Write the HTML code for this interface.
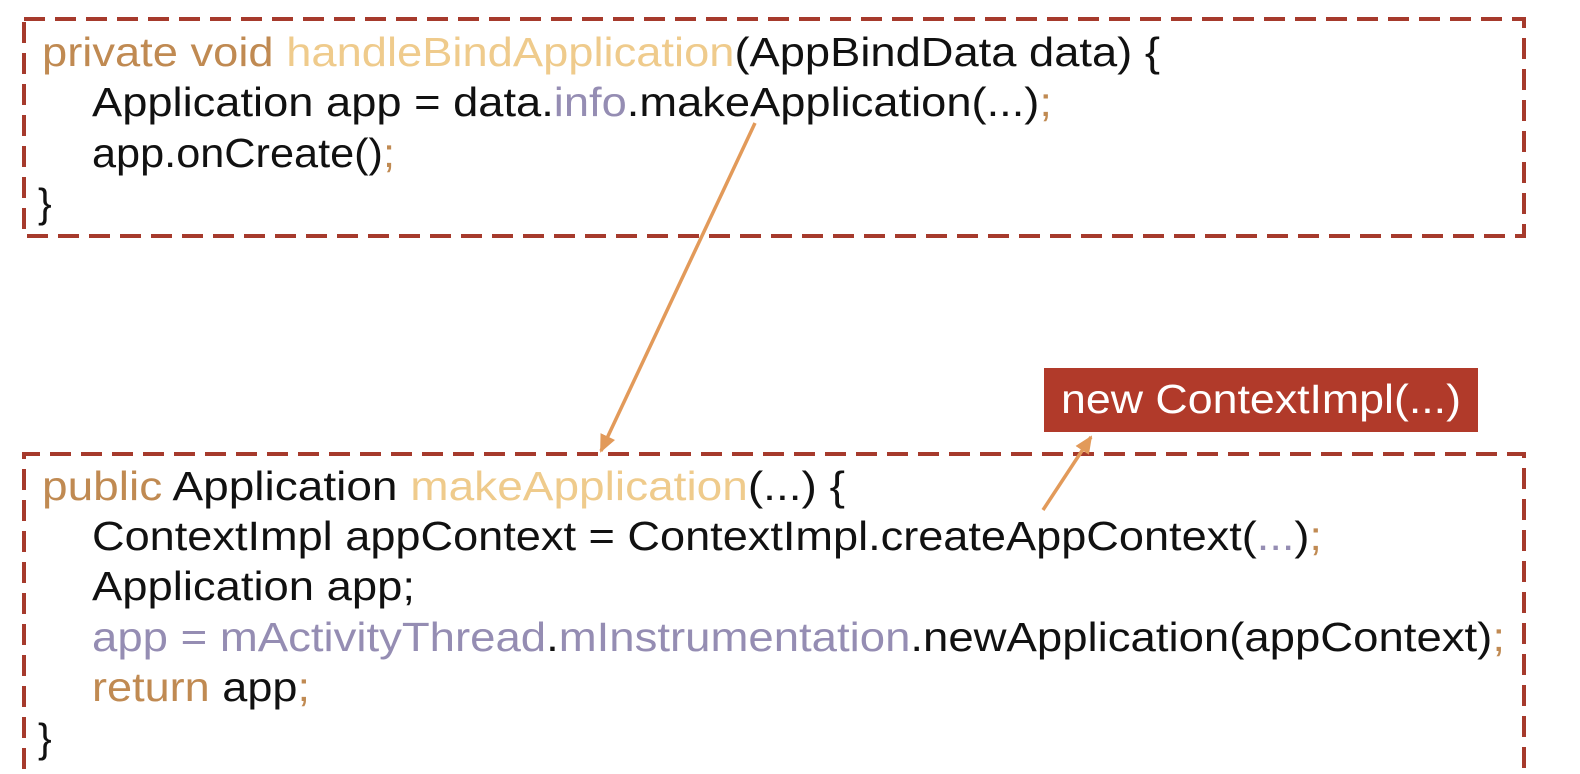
<!DOCTYPE html>
<html><head><meta charset="utf-8"><style>
html,body{margin:0;padding:0;background:#fff;width:1580px;height:774px;overflow:hidden}
svg text{font-family:"Liberation Sans","Noto Sans CJK SC",sans-serif;font-size:41px;fill:#111}
.k{fill:#c08a52}.m{fill:#efcb8c}.p{fill:#958db3}
</style></head><body>
<svg width="1580" height="774" xmlns="http://www.w3.org/2000/svg">
<defs>
<marker id="ah" markerWidth="18" markerHeight="16" refX="16" refY="8" orient="auto" markerUnits="userSpaceOnUse">
<path d="M0,0 L18,8 L0,16 Z" fill="#e29a5a"/>
</marker>
</defs>
<g fill="none" stroke="#a63a2c" stroke-width="4" stroke-dasharray="21 10">
<rect x="24" y="19" width="1500" height="217"/>
<path d="M24,800 L24,454 L1524,454 L1524,800"/>
</g>
<text x="42" y="66" textLength="1118" lengthAdjust="spacingAndGlyphs"><tspan class="k">private void </tspan><tspan class="m">handleBindApplication</tspan>(AppBindData data) {</text>
<text x="92" y="116" textLength="960" lengthAdjust="spacingAndGlyphs">Application app = data.<tspan class="p">info</tspan>.makeApplication(...)<tspan class="k">;</tspan></text>
<text x="92" y="167" textLength="303" lengthAdjust="spacingAndGlyphs">app.onCreate()<tspan class="k">;</tspan></text>
<text x="38" y="217">}</text>

<text x="42" y="500" textLength="803" lengthAdjust="spacingAndGlyphs"><tspan class="k">public </tspan>Application <tspan class="m">makeApplication</tspan>(...) {</text>
<text x="92" y="550" textLength="1230" lengthAdjust="spacingAndGlyphs">ContextImpl appContext = ContextImpl.createAppContext(<tspan class="p">...</tspan>)<tspan class="k">;</tspan></text>
<text x="92" y="600" textLength="323" lengthAdjust="spacingAndGlyphs">Application app;</text>
<text x="92" y="651" textLength="1413" lengthAdjust="spacingAndGlyphs"><tspan class="p">app = mActivityThread</tspan>.<tspan class="p">mInstrumentation</tspan>.newApplication(appContext)<tspan class="k">;</tspan></text>
<text x="92" y="701" textLength="218" lengthAdjust="spacingAndGlyphs"><tspan class="k">return </tspan>app<tspan class="k">;</tspan></text>
<text x="38" y="752">}</text>

<rect x="1044" y="368" width="434" height="64" fill="#b13a2a"/>
<text x="1061" y="413" textLength="400" lengthAdjust="spacingAndGlyphs" style="fill:#fff">new ContextImpl(...)</text>

<line x1="755" y1="123" x2="601" y2="451" stroke="#e29a5a" stroke-width="3.5" marker-end="url(#ah)"/>
<line x1="1043" y1="510" x2="1091" y2="437" stroke="#e29a5a" stroke-width="3.5" marker-end="url(#ah)"/>
</svg>
</body></html>
